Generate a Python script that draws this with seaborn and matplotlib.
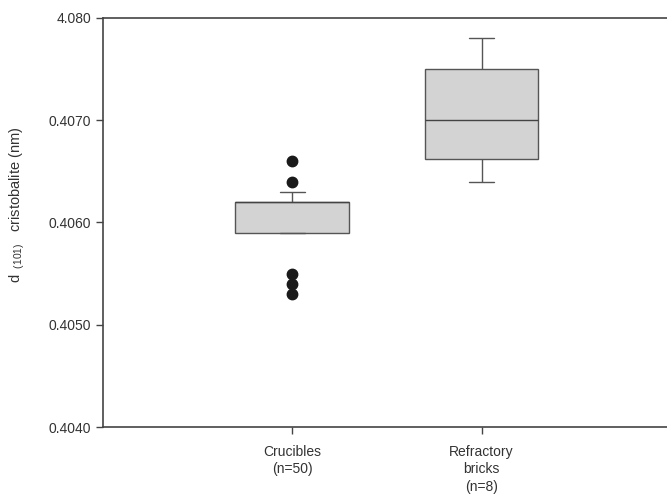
import numpy as np
import pandas as pd
import seaborn as sns
import matplotlib.pyplot as plt

# categories and tick labels
categories = ["Crucibles", "Refractory bricks"]
tick_labels = ["Crucibles\n(n=50)", "Refractory\nbricks\n(n=8)"]

# crucibles: distinct d-spacing values and how many samples have each (n=50)
crucible_values = [0.4053, 0.4054, 0.4055, 0.4059, 0.4060, 0.4061, 0.4062, 0.4063, 0.4064, 0.4066]
crucible_counts = [1, 1, 1, 12, 5, 4, 15, 9, 1, 1]

# refractory bricks (n=8)
brick_values = [0.4064, 0.4064, 0.4067, 0.4069, 0.4071, 0.4074, 0.4078, 0.4078]

y_ticks = [0.4040, 0.4050, 0.4060, 0.4070, 0.4080]
y_tick_labels = ["0.4040", "0.4050", "0.4060", "0.4070", "4.080"]

sns.set_style("ticks")
plt.rcParams["font.family"] = ["Liberation Sans", "DejaVu Sans"]
plt.rcParams["mathtext.fontset"] = "custom"
plt.rcParams["mathtext.rm"] = "Liberation Sans"
plt.rcParams["mathtext.default"] = "regular"

df = pd.DataFrame({
    "group": [categories[0]] * sum(crucible_counts) + [categories[1]] * len(brick_values),
    "d": list(np.repeat(crucible_values, crucible_counts)) + brick_values,
})

fig = plt.figure(figsize=(6.67, 4.94), dpi=100)
ax = fig.add_axes([0.1544, 0.1356, 0.8456, 0.828])

edge = "#555555"
sns.boxplot(data=df, x="group", y="d", order=categories, ax=ax,
            whis=(10, 90), width=0.6, color="#d3d3d3", linecolor=edge,
            linewidth=1.0, saturation=1,
            flierprops=dict(marker="o", markersize=7.5, markerfacecolor="#1a1a1a",
                            markeredgecolor="#1a1a1a"),
            medianprops=dict(color="#444444", linewidth=1.0),
            capwidths=0.13)

ax.set_xlim(-1.0, 1.98)
ax.set_ylim(0.4040, 0.4080)
ax.set_yticks(y_ticks)
ax.set_yticklabels(y_tick_labels)
ax.set_xticks([0, 1])
ax.set_xticklabels(tick_labels, linespacing=1.3, fontsize=10.5)
ax.set_xlabel("")
ax.set_ylabel(r"d$_{\ \ (101)}$   cristobalite (nm)", fontsize=10.5, color="#333333")
ax.yaxis.set_label_coords(-0.135, 0.543)

for side in ["left", "bottom", "top"]:
    ax.spines[side].set_color("#444444")
    ax.spines[side].set_linewidth(1.2)
ax.spines["right"].set_visible(False)
ax.tick_params(axis="both", direction="out", length=5, width=1, color="#444444",
               labelsize=10, labelcolor="#333333")
ax.tick_params(axis="x", pad=8)

fig.savefig("out.png", dpi=100)
